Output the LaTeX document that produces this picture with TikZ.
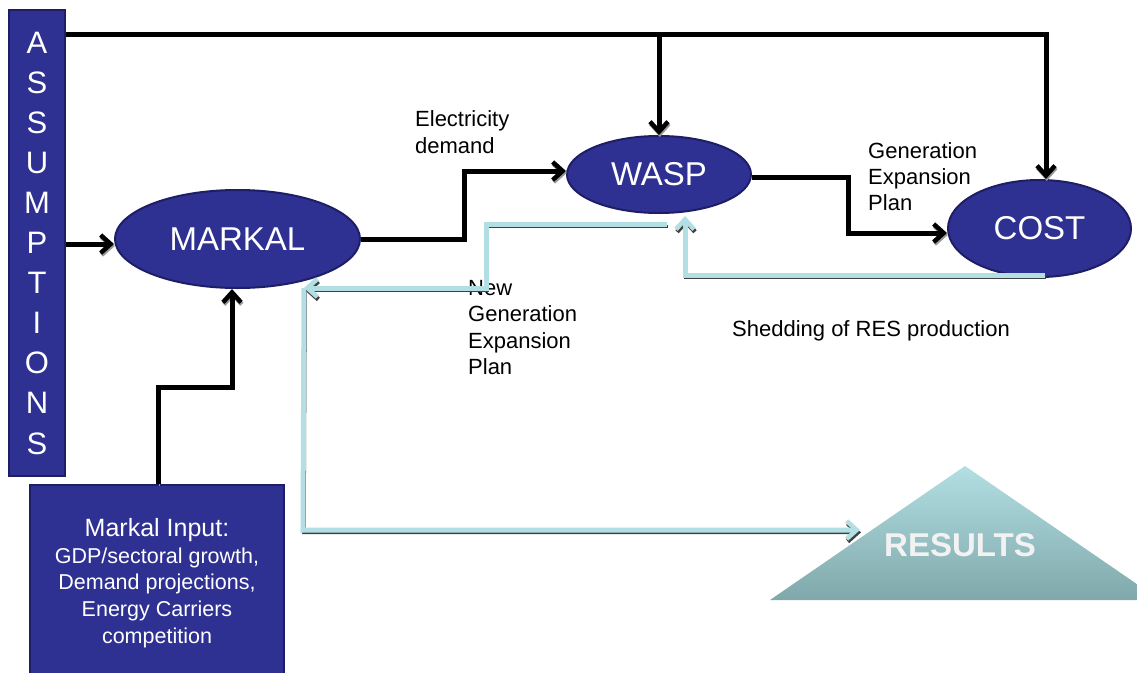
\documentclass[tikz,border=0pt]{standalone}
\usepackage{fontspec}
\setmainfont{Liberation Sans}
\usetikzlibrary{shapes.geometric,arrows.meta,calc}

\definecolor{navy}{RGB}{46,49,146}
\definecolor{navyedge}{RGB}{30,30,102}
\definecolor{pale}{RGB}{178,223,227}
\definecolor{paledark}{RGB}{128,168,170}

\begin{document}
\begin{tikzpicture}[x=1pt,y=-1pt,
  model/.style={ellipse, draw=navyedge, line width=2pt, fill=navy, text=white,
    inner sep=0pt, font=\fontsize{33}{36}\selectfont},
  bluebox/.style={rectangle, draw=navyedge, line width=2pt, fill=navy, text=white,
    inner sep=0pt, align=center},
  lbl/.style={inner sep=0pt, align=left, anchor=north west,
    font=\fontsize{22}{26.4}\selectfont},
  barb/.tip={Straight Barb[length=10pt,width=18pt,line width=4.5pt]},
  flow/.style={line width=5pt, draw=black,
    preaction={draw=black!40, transform canvas={shift={(0.8pt,-2pt)}}}},
  feedback/.style={line width=5pt, draw=pale,
    preaction={draw=black!75, line width=3.5pt, transform canvas={shift={(1pt,-2.4pt)}}}},
]
\clip (0,0) rectangle (1137,672);
\fill[white] (0,0) rectangle (1137,672);

% boxes and models
\node[bluebox, minimum width=56pt, minimum height=466pt,
  font=\fontsize{31}{40.1}\selectfont] (assump) at (37,243)
  {A\\S\\S\\U\\M\\P\\T\\I\\O\\N\\S};

\node[model, minimum width=245pt, minimum height=98pt] (markal) at (237.5,239) {MARKAL};
\node[model, minimum width=184pt, minimum height=77pt] (wasp) at (659,174.5) {WASP};
\node[model, minimum width=183pt, minimum height=97pt] (cost) at (1039.5,228.5) {COST};

\node[bluebox, minimum width=254pt, minimum height=196pt,
  font=\fontsize{21.5}{26.6}\selectfont] (input) at (157,583)
  {{\fontsize{25}{28}\selectfont Markal Input:}\\GDP/sectoral growth,\\Demand projections,\\Energy Carriers\\competition};

% results pyramid
\shade[top color=pale, bottom color=paledark] (965,466) -- (1160,600) -- (770,600) -- cycle;
\node[text=white!95!black, inner sep=0pt, font=\fontsize{33}{36}\bfseries] (results) at (960,545) {RESULTS};

% labels
\node[lbl] (demand) at (415,110.5) {Electricity\\demand};
\node[lbl] (gep) at (868,142) {Generation\\Expansion\\Plan};
\node[lbl] (ngep) at (468,280) {New\\Generation\\Expansion\\Plan};
\node[lbl] (shed) at (732,320) {Shedding of RES production};

% free ends of the feedback loops
\coordinate (mk) at (304,288);
\coordinate (wp) at (667,224);
\coordinate (cs) at (1045,275);
\coordinate (wb) at (685,216);
\coordinate (rtip) at (860,530);

% feedback loops
\draw[feedback, -barb] (wp) -- (486,224) -- (486,288) -- (mk);
\draw[feedback, -barb] (mk) -- (303,530) -- (rtip);
\draw[feedback, -barb] (cs) -- (685,275) -- (wb);

% assumptions feed
\draw[flow, -barb] (assump.east |- 0,34) -- (1046,34) -- (cost.north -| 1046,0);
\draw[flow, -barb] (wasp.north |- 0,34) -- (wasp.north);
\draw[flow, -barb] (assump.east |- 0,244) -- (markal.west |- 0,244);

% model chain
\draw[flow, -barb] (markal.east) -- (464,239) -- (464,171) -- (wasp.west |- 0,171);
\draw[flow, -barb] (wasp.east |- 0,177) -- (848,177) -- (848,233) -- (cost.west |- 0,233);

% input data to MARKAL
\draw[flow, -barb] (input.north -| 158,0) -- (158,387) -- (232,387) -- (markal.south -| 232,0);
\end{tikzpicture}
\end{document}
